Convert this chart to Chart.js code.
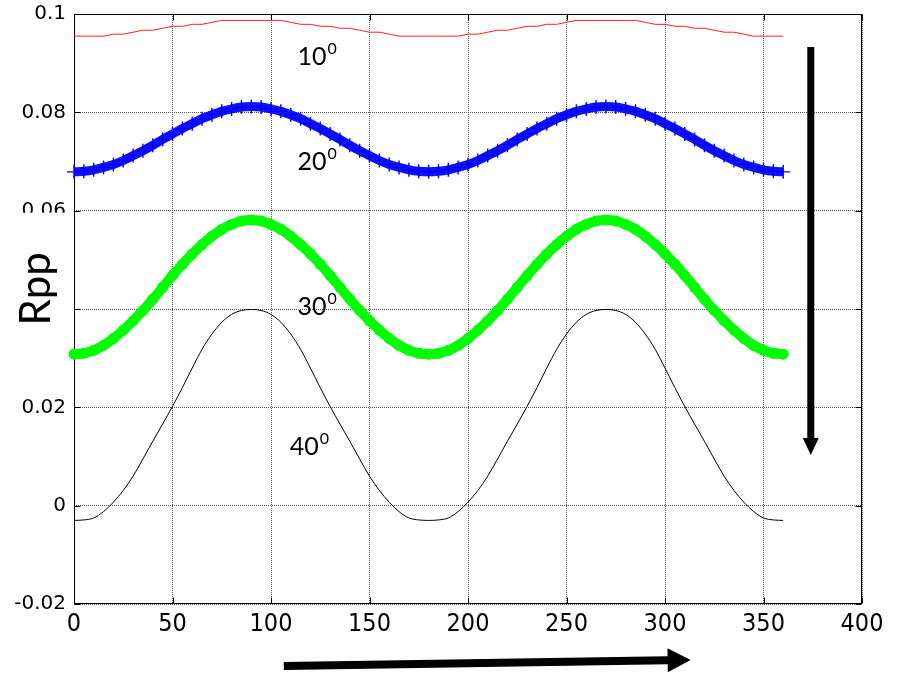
<!DOCTYPE html>
<html>
<head>
<meta charset="utf-8">
<script src="https://cdn.jsdelivr.net/npm/chart.js@4.4.1/dist/chart.umd.min.js"></script>
<style>
html,body{margin:0;padding:0;background:#fff;}
#wrap{width:899px;height:674px;position:relative;}
canvas{display:block;}
</style>
</head>
<body>
<div id="wrap"><canvas id="c" width="899" height="674"></canvas></div>
<script>
// ---------- data ----------
const angles = [0,5,10,15,20,25,30,35,40,45,50,55,60,65,70,75,80,85,90,95,100,105,110,115,120,125,130,135,140,145,150,155,160,165,170,175,180,185,190,195,200,205,210,215,220,225,230,235,240,245,250,255,260,265,270,275,280,285,290,295,300,305,310,315,320,325,330,335,340,345,350,355,360];

const rpp10 = [0.0955,0.0955,0.0955,0.0955,0.0959,0.0959,0.0963,0.0967,0.0967,0.0971,0.0975,0.0975,0.0979,0.0979,0.0983,0.0987,0.0987,0.0987,0.0987,0.0987,0.0987,0.0987,
0.0983,0.0979,0.0979,0.0975,0.0975,0.0971,0.0971,0.0967,0.0963,0.0963,0.0959,0.0955,0.0955,0.0955,0.0955,0.0955,0.0955,0.0955,
0.0959,0.0959,0.0963,0.0967,0.0967,0.0971,0.0975,0.0975,0.0979,0.0979,0.0983,0.0987,0.0987,0.0987,0.0987,0.0987,0.0987,0.0987,
0.0983,0.0979,0.0979,0.0975,0.0975,0.0971,0.0971,0.0967,0.0963,0.0963,0.0959,0.0955,0.0955,0.0955,0.0955];

const rpp20 = [0.0679,0.0680,0.0683,0.0688,0.0694,0.0702,0.0712,0.0722,0.0733,0.0745,0.0756,0.0767,0.0777,0.0787,0.0795,0.0802,0.0807,0.0811,0.0812,
0.0811,0.0807,0.0802,0.0795,0.0787,0.0777,0.0767,0.0756,0.0745,0.0733,0.0722,0.0712,0.0702,0.0694,0.0688,0.0683,0.0680,0.0679,
0.0680,0.0683,0.0688,0.0694,0.0702,0.0712,0.0722,0.0733,0.0745,0.0756,0.0767,0.0777,0.0787,0.0795,0.0802,0.0807,0.0811,0.0812,
0.0811,0.0807,0.0802,0.0795,0.0787,0.0777,0.0767,0.0756,0.0745,0.0733,0.0722,0.0712,0.0702,0.0694,0.0688,0.0683,0.0680,0.0679];

const rpp30 = [0.0308,0.0310,0.0316,0.0326,0.0340,0.0357,0.0376,0.0397,0.0420,0.0444,0.0468,0.0491,0.0512,0.0531,0.0548,0.0562,0.0572,0.0579,0.0581,
0.0579,0.0572,0.0562,0.0548,0.0531,0.0512,0.0491,0.0468,0.0444,0.0420,0.0397,0.0376,0.0357,0.0340,0.0326,0.0316,0.0310,0.0308,
0.0310,0.0316,0.0326,0.0340,0.0357,0.0376,0.0397,0.0420,0.0444,0.0468,0.0491,0.0512,0.0531,0.0548,0.0562,0.0572,0.0579,0.0581,
0.0579,0.0572,0.0562,0.0548,0.0531,0.0512,0.0491,0.0468,0.0444,0.0420,0.0397,0.0376,0.0357,0.0340,0.0326,0.0316,0.0310,0.0308];

const rpp40 = [-0.0030,-0.0029,-0.0025,-0.0012,0.0007,0.0031,0.0060,0.0095,0.0131,0.0166,0.0202,0.0240,0.0280,0.0318,0.0349,0.0373,0.0389,0.0397,0.0399,
0.0397,0.0389,0.0373,0.0349,0.0318,0.0280,0.0240,0.0202,0.0166,0.0131,0.0095,0.0060,0.0031,0.0007,-0.0012,-0.0025,-0.0029,-0.0030,
-0.0029,-0.0025,-0.0012,0.0007,0.0031,0.0060,0.0095,0.0131,0.0166,0.0202,0.0240,0.0280,0.0318,0.0349,0.0373,0.0389,0.0397,0.0399,
0.0397,0.0389,0.0373,0.0349,0.0318,0.0280,0.0240,0.0202,0.0166,0.0131,0.0095,0.0060,0.0031,0.0007,-0.0012,-0.0025,-0.0029,-0.0030];

const xTicks = [0,50,100,150,200,250,300,350,400];
const yTicks = [-0.02,0,0.02,0.04,0.06,0.08,0.1];
const yTitle = 'Rpp';
const curveLabels = ['10','20','30','40'];
const curveLabelSup = '0';

// ---------- annotation placement (data coordinates) ----------
const labelPos = [
  {x:113.5, y:0.0912},
  {x:113.5, y:0.0700},
  {x:113.5, y:0.0404},
  {x:109.5, y:0.0119}
];
const vArrow = {x:374, y0:0.0933, y1:0.0103};
const hArrow = {x0:106.5, x1:313, dy0:62, dy1:56};

function toPts(vals){ return angles.map((a,i)=>({x:a, y:vals[i]})); }

function drawArrow(ctx, x0, y0, x1, y1, shaftW, headL, headW){
  const dx = x1-x0, dy = y1-y0, len = Math.hypot(dx,dy);
  const ux = dx/len, uy = dy/len, nx = -uy, ny = ux;
  const bx = x1 - ux*headL, by = y1 - uy*headL;
  ctx.beginPath();
  ctx.moveTo(x0 + nx*shaftW/2, y0 + ny*shaftW/2);
  ctx.lineTo(bx + nx*shaftW/2, by + ny*shaftW/2);
  ctx.lineTo(bx + nx*headW/2, by + ny*headW/2);
  ctx.lineTo(x1, y1);
  ctx.lineTo(bx - nx*headW/2, by - ny*headW/2);
  ctx.lineTo(bx - nx*shaftW/2, by - ny*shaftW/2);
  ctx.lineTo(x0 - nx*shaftW/2, y0 - ny*shaftW/2);
  ctx.closePath();
  ctx.fill();
}

const decor = {
  id:'decor',
  beforeDatasetsDraw(chart){
    const {ctx, chartArea:a, scales:{x,y}} = chart;
    ctx.save();
    ctx.strokeStyle = '#000';
    ctx.lineWidth = 1;
    const L = Math.round(a.left)+0.5, R = Math.round(a.right)-0.5, T = Math.round(a.top)+0.5, B = Math.round(a.bottom)-0.5;
    ctx.strokeRect(L, T, R-L, B-T);
    ctx.beginPath();
    yTicks.forEach(v=>{
      const p = Math.round(y.getPixelForValue(v))+0.5;
      ctx.moveTo(L, p); ctx.lineTo(L+6, p);
      ctx.moveTo(R, p); ctx.lineTo(R-6, p);
    });
    xTicks.forEach(v=>{
      const p = Math.round(x.getPixelForValue(v))+0.5;
      ctx.moveTo(p, B); ctx.lineTo(p, B-6);
      ctx.moveTo(p, T); ctx.lineTo(p, T+6);
    });
    ctx.stroke();
    ctx.restore();
  },
  afterDraw(chart){
    const {ctx, chartArea:a, scales:{x,y}} = chart;
    ctx.save();
    // white text box of the y-axis title (covers part of the tick labels)
    const boxTop = y.getPixelForValue(0.06) + 2;
    const boxBot = y.getPixelForValue(0.04) + 40;
    ctx.fillStyle = '#fff';
    ctx.fillRect(0, boxTop, a.left - 3, boxBot - boxTop);
    // y title
    ctx.fillStyle = '#000';
    ctx.font = '42px Lato';
    ctx.textAlign = 'center';
    ctx.textBaseline = 'alphabetic';
    ctx.translate(50, (boxTop + boxBot)/2 + 8);
    ctx.rotate(-Math.PI/2);
    ctx.fillText(yTitle, 0, 0);
    ctx.restore();

    // curve labels with superscript
    ctx.save();
    ctx.fillStyle = '#000';
    ctx.textAlign = 'left';
    ctx.textBaseline = 'middle';
    curveLabels.forEach((t,i)=>{
      const px = x.getPixelForValue(labelPos[i].x);
      const py = y.getPixelForValue(labelPos[i].y);
      ctx.font = '25px Lato';
      ctx.fillText(t, px, py);
      const w = ctx.measureText(t).width;
      ctx.font = '16px Lato';
      ctx.fillText(curveLabelSup, px + w + 1, py - 8);
    });
    ctx.restore();

    // arrows
    ctx.save();
    ctx.fillStyle = '#000';
    const vx = x.getPixelForValue(vArrow.x);
    drawArrow(ctx, vx, y.getPixelForValue(vArrow.y0), vx, y.getPixelForValue(vArrow.y1), 7, 17, 16);
    drawArrow(ctx, x.getPixelForValue(hArrow.x0), a.bottom + hArrow.dy0, x.getPixelForValue(hArrow.x1), a.bottom + hArrow.dy1, 8, 23, 24);
    ctx.restore();
  }
};

function build(){
  new Chart(document.getElementById('c'), {
    type:'line',
    data:{
      datasets:[
        {label:'10', data:toPts(rpp10), borderColor:'#ff2020', borderWidth:1, pointRadius:0, tension:0},
        {label:'20', data:toPts(rpp20), borderColor:'#1010ff', borderWidth:9, cubicInterpolationMode:'monotone',
          pointStyle:'cross', pointRadius:7, pointBorderWidth:1.4, pointBorderColor:'#0000ff', pointBackgroundColor:'#0000ff', clip:12},
        {label:'30', data:toPts(rpp30), borderColor:'#00ff00', borderWidth:10, cubicInterpolationMode:'monotone',
          borderCapStyle:'round', borderJoinStyle:'round',
          pointRadius:5.5, pointBorderWidth:0, pointBackgroundColor:'#00ff00', clip:12},
        {label:'40', data:toPts(rpp40), borderColor:'#000000', borderWidth:1, pointRadius:0, cubicInterpolationMode:'monotone'}
      ]
    },
    options:{
      responsive:false,
      animation:false,
      events:[],
      plugins:{legend:{display:false}, tooltip:{enabled:false}, title:{display:false}},
      layout:{padding:{top:14, right:37, left:0, bottom:0}},
      scales:{
        x:{
          type:'linear', min:0, max:400,
          afterFit(s){ s.height = 70; s.paddingLeft = 0; s.paddingRight = 0; },
          afterBuildTicks(s){ s.ticks = xTicks.map(v=>({value:v})); },
          ticks:{font:{family:'"Liberation Sans Narrow", "DejaVu Sans Condensed", "Liberation Sans", Arial, sans-serif', size:25}, color:'#000', padding:5, maxRotation:0, autoSkip:false},
          grid:{color:'#555', lineWidth:1, drawTicks:false},
          border:{display:false, dash:[1,1]}
        },
        y:{
          type:'linear', min:-0.02, max:0.1,
          afterFit(s){ s.width = 74; s.paddingTop = 0; s.paddingBottom = 0; },
          afterBuildTicks(s){ s.ticks = yTicks.map(v=>({value:v})); },
          ticks:{font:{family:'"DejaVu Sans", sans-serif', size:20}, color:'#000', padding:8, autoSkip:false,
            callback:(v)=> v===0.04 ? '' : String(v)},
          grid:{color:'#555', lineWidth:1, drawTicks:false},
          border:{display:false, dash:[1,1]}
        }
      }
    },
    plugins:[decor]
  });
}

const fontLoads = ['25px Lato','42px Lato','20px "DejaVu Sans"','25px "Liberation Sans Narrow"','25px "DejaVu Sans Condensed"'].map(f=>document.fonts.load(f).catch(()=>null));
Promise.race([Promise.all(fontLoads), new Promise(r=>setTimeout(r,1500))]).then(build);
</script>
</body>
</html>
